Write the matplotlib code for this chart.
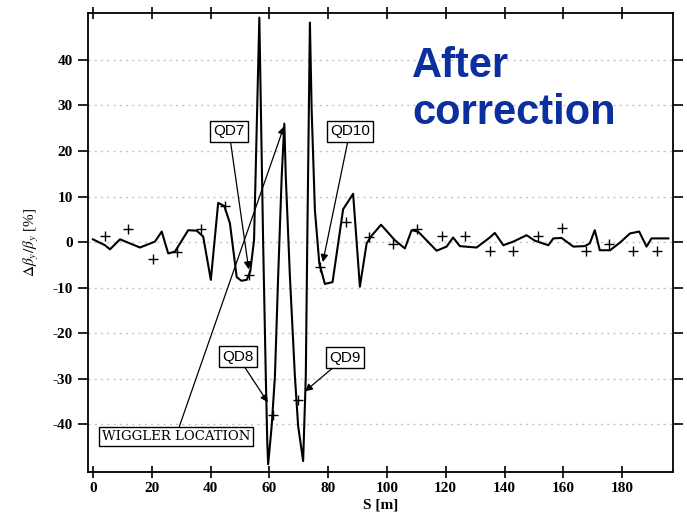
import matplotlib
matplotlib.use("Agg")
import matplotlib.pyplot as plt
from matplotlib.ticker import FixedLocator, FuncFormatter

# beta-beat curve (after correction)
s_line = [0, 4.1, 5.8, 9.2, 16, 21.1, 23.4, 25.6, 27.9, 32.4, 35.3, 37.5,
          40.1, 42.6, 44.7, 46.6, 48.9, 50.5, 52.3, 53.5, 54.8, 56.6, 57.9,
          58.8, 59.3, 59.6, 60.8, 61.9, 63, 64.2, 65.1, 65.6, 67, 68.7, 69.8,
          71.5, 72.4, 72.9, 73.8, 74.4, 75.5, 77, 78.9, 81.5, 85.1, 88.5,
          90.8, 93.1, 94.8, 98, 102.7, 106.1, 108.4, 110.6, 116.9, 120.3,
          122.5, 124.8, 130.5, 135, 136.7, 139.6, 143, 147.5, 150.3, 154.9,
          156.6, 159.4, 163.4, 167.3, 169, 170.7, 172.4, 175.9, 179.3, 182.7,
          185.8, 188.3, 190, 195.7]
beat_line = [0.6, -0.7, -1.6, 0.6, -1.2, 0.1, 2.3, -2.5, -2.1, 2.6, 2.5, 1.2,
             -8.3, 8.6, 7.9, 4.1, -7.7, -8.5, -8.3, -6.5, 0.4, 49.3, -0.3,
             -29.5, -44, -48.8, -40.4, -29.5, -7.6, 14.3, 26, 14.3, -7.6,
             -29.5, -40.4, -48.1, -29.5, -0.3, 48.2, 28.9, 7, -4.7, -9.2,
             -8.8, 7.2, 10.6, -9.8, -0.3, 1.4, 3.8, 0.4, -1.4, 2.6, 2.3,
             -1.9, -1.0, 1.0, -0.9, -1.2, 1.0, 2.0, -0.7, 0.1, 1.5, 0.3,
             -0.7, 0.8, 0.9, -1.0, -0.9, -0.3, 2.6, -1.8, -1.8, -0.1, 1.9,
             2.3, -1.0, 0.8, 0.8]

# measured points (+)
s_meas = [4.1, 12, 20.5, 28.5, 36.7, 44.9, 53.2, 61.3, 69.8, 77.4, 86.1, 94,
          102.1, 110.1, 118.6, 126.5, 135, 143, 151.5, 159.4, 167.7, 175.6,
          183.8, 192]
beat_meas = [1.3, 2.8, -3.8, -2.1, 2.8, 7.9, -7.2, -37.9, -34.6, -5.4, 4.4,
             1.0, -0.4, 2.8, 1.3, 1.3, -2.0, -2.0, 1.3, 3.0, -2.0, -0.4,
             -2.0, -2.0]

x_ticks = [0, 20, 40, 60, 80, 100, 120, 140, 160, 180]
y_ticks = [40, 30, 20, 10, 0, -10, -20, -30, -40]

# label text, box centre, arrow tip
labels = [
    ("QD7", (46.3, 24.3), (53.0, -6.0), "sans-serif"),
    ("QD10", (87.4, 24.3), (78.2, -4.4), "sans-serif"),
    ("QD8", (49.3, -25.2), (59.5, -35.2), "sans-serif"),
    ("QD9", (85.7, -25.4), (72.1, -32.8), "sans-serif"),
    ("WIGGLER LOCATION", (28.2, -42.7), (65.0, 25.4), "serif"),
]

plt.rcParams["font.family"] = ["Liberation Serif", "DejaVu Serif"]
plt.rcParams["mathtext.fontset"] = "stix"

fig = plt.figure(figsize=(6.87, 5.2), dpi=100)
ax = fig.add_axes([0.128, 0.0923, 0.8516, 0.8827])

ax.plot(s_line, beat_line, color="black", lw=1.5, zorder=3)
ax.plot(s_meas, beat_meas, ls="none", marker="+", ms=7, mew=1.0,
        color="black", zorder=4)

ax.set_xlim(-1.7, 197.3)
ax.set_ylim(-50.5, 50.3)
ax.xaxis.set_major_locator(FixedLocator(x_ticks))
ax.yaxis.set_major_locator(FixedLocator(y_ticks))
ax.yaxis.set_major_formatter(FuncFormatter(lambda v, _: f"{int(v)}"))
ax.tick_params(axis="x", which="major", direction="inout", length=9,
               width=1.2, top=True, labelsize=11, pad=3)
ax.tick_params(axis="y", which="major", direction="out", length=7,
               width=1.2, right=True, labelsize=11, pad=4)
for lab in ax.get_xticklabels() + ax.get_yticklabels():
    lab.set_fontweight("bold")
for sp in ax.spines.values():
    sp.set_linewidth(1.3)

ax.grid(axis="y", ls=(0, (1.5, 3)), color="#c4c4c4", lw=1.0, zorder=0)

ax.set_xlabel("S [m]", fontsize=11, fontweight="bold", labelpad=2)
ax.set_ylabel(r"$\Delta\beta_y/\beta_y$ [%]", fontsize=11, labelpad=8)

for text, box_xy, tip_xy, family in labels:
    sans = family == "sans-serif"
    ax.annotate(text, xy=tip_xy, xytext=box_xy, ha="center", va="center",
                fontsize=11 if sans else 9.5,
                family=["Liberation Sans", "DejaVu Sans"] if sans else family,
                bbox=dict(boxstyle="square,pad=0.22", fc="white", ec="black", lw=1.0),
                arrowprops=dict(arrowstyle="-|>", color="black", lw=0.9,
                                mutation_scale=11, shrinkA=0, shrinkB=0),
                zorder=5)

fig.text(0.600, 0.828, "After\ncorrection", color="#0b2f9f", fontsize=30,
         fontweight="bold", family=["Liberation Sans", "DejaVu Sans"],
         ha="left", va="center", linespacing=1.2)

fig.savefig("out.png", dpi=100)
